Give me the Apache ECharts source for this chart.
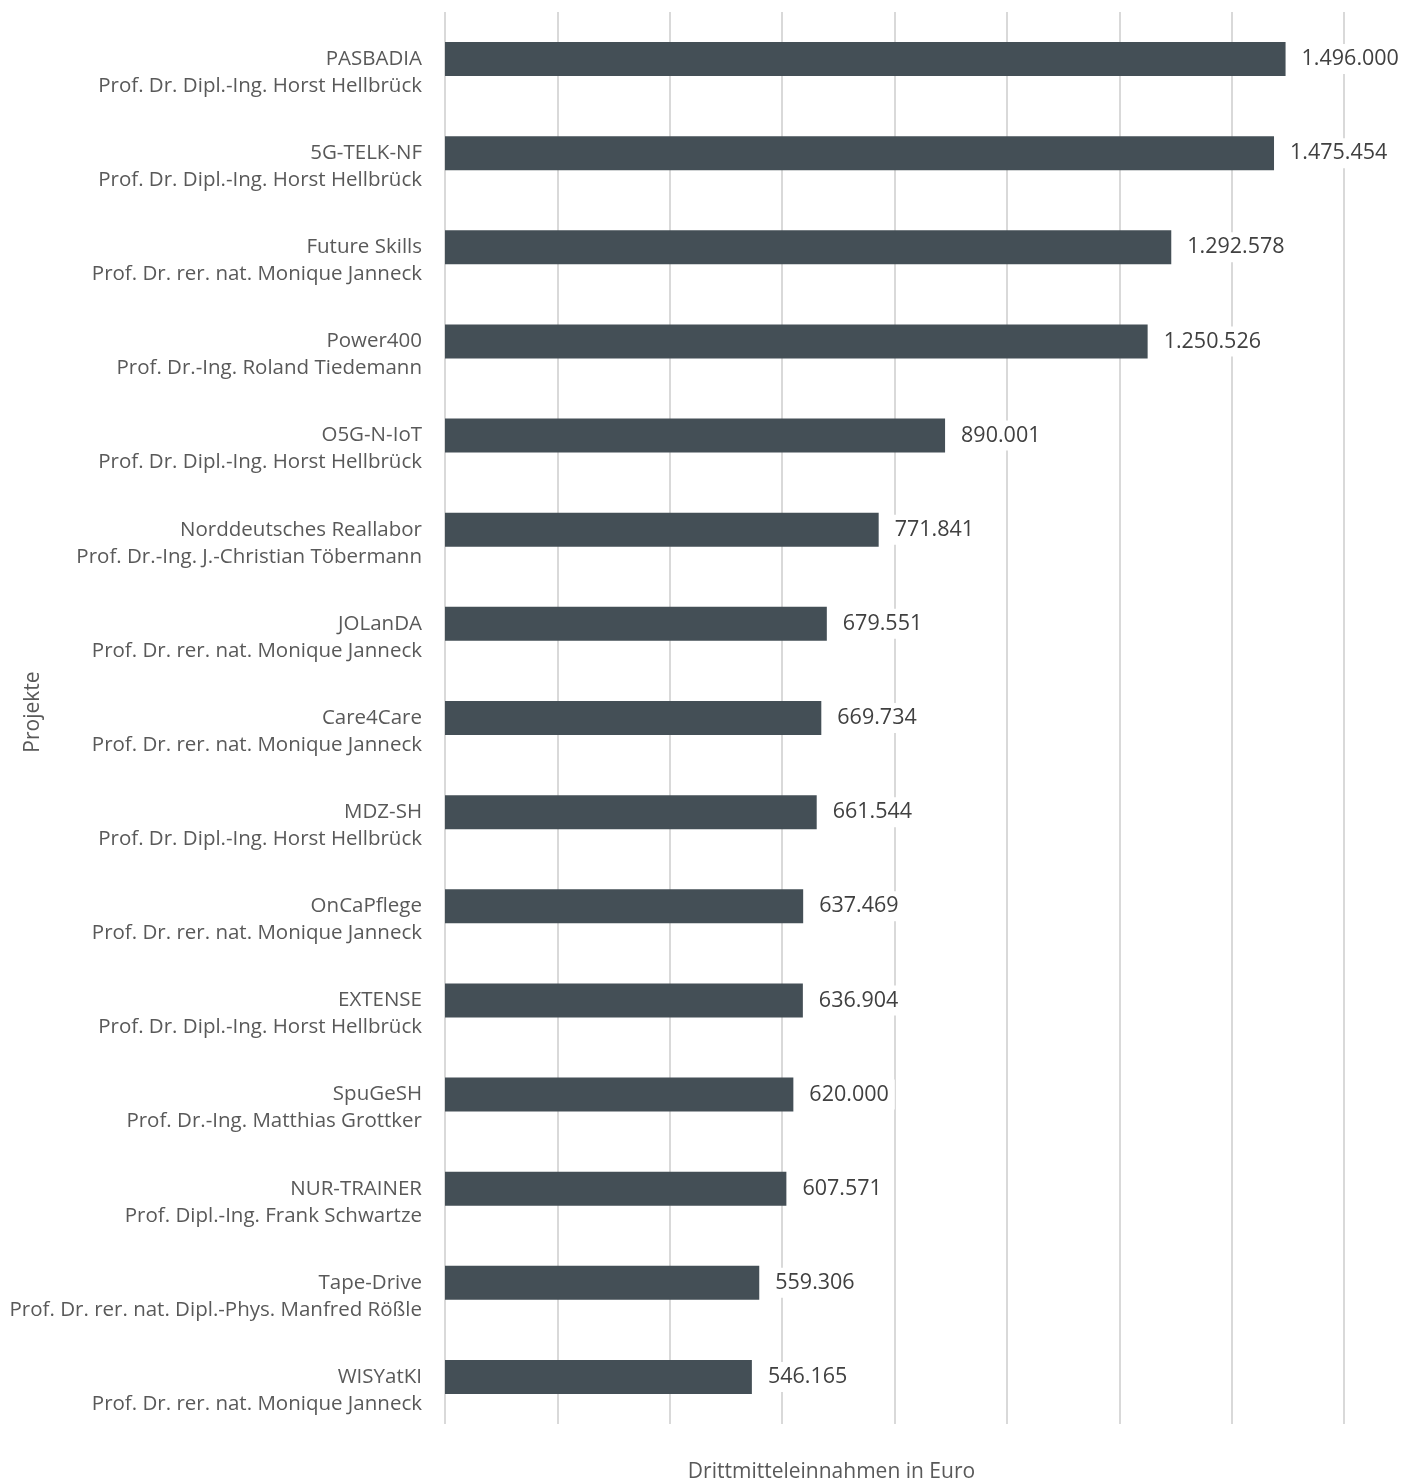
<!DOCTYPE html>
<html>
<head>
<meta charset="utf-8">
<script src="https://cdn.jsdelivr.net/npm/echarts@6/dist/echarts.min.js"></script>
<style>
  html, body { margin: 0; padding: 0; background: #fff; }
  #chart { width: 1416px; height: 1479px; }
</style>
</head>
<body>
<div id="chart"></div>
<script>
const projects = ['PASBADIA', '5G-TELK-NF', 'Future Skills', 'Power400', 'O5G-N-IoT', 'Norddeutsches Reallabor',
  'JOLanDA', 'Care4Care', 'MDZ-SH', 'OnCaPflege', 'EXTENSE', 'SpuGeSH', 'NUR-TRAINER', 'Tape-Drive', 'WISYatKI'];
const leaders = ['Prof. Dr. Dipl.-Ing. Horst Hellbrück', 'Prof. Dr. Dipl.-Ing. Horst Hellbrück',
  'Prof. Dr. rer. nat. Monique Janneck', 'Prof. Dr.-Ing. Roland Tiedemann', 'Prof. Dr. Dipl.-Ing. Horst Hellbrück',
  'Prof. Dr.-Ing. J.-Christian Töbermann', 'Prof. Dr. rer. nat. Monique Janneck', 'Prof. Dr. rer. nat. Monique Janneck',
  'Prof. Dr. Dipl.-Ing. Horst Hellbrück', 'Prof. Dr. rer. nat. Monique Janneck', 'Prof. Dr. Dipl.-Ing. Horst Hellbrück',
  'Prof. Dr.-Ing. Matthias Grottker', 'Prof. Dipl.-Ing. Frank Schwartze', 'Prof. Dr. rer. nat. Dipl.-Phys. Manfred Rößle',
  'Prof. Dr. rer. nat. Monique Janneck'];
const einnahmen = [1496000, 1475454, 1292578, 1250526, 890001, 771841, 679551, 669734, 661544, 637469, 636904, 620000, 607571, 559306, 546165];

const categories = projects.map((p, i) => p + '\n' + leaders[i]);

// deutsche Tausenderpunkte
const fmt = (v) => String(v).replace(/\B(?=(\d{3})+(?!\d))/g, '.');

const font = '"Open Sans", sans-serif';

const chart = echarts.init(document.getElementById('chart'));
chart.setOption({
  animation: false,
  backgroundColor: '#fff',
  grid: { left: 445, right: 72, top: 12, bottom: 55, outerBoundsMode: 'none' },
  xAxis: {
    type: 'value',
    min: 0,
    max: 1600000,
    interval: 200000,
    axisLabel: { show: false },
    axisLine: { show: false },
    axisTick: { show: false },
    splitLine: { lineStyle: { color: '#d9d9d9', width: 2 } },
    name: 'Drittmitteleinnahmen in Euro',
    nameLocation: 'middle',
    nameGap: 38,
    nameMoveOverlap: false,
    nameTextStyle: { fontFamily: font, fontSize: 21, color: '#595959', padding: [0, 126, 0, 0] }
  },
  yAxis: {
    type: 'category',
    inverse: true,
    data: categories,
    axisLine: { show: false },
    axisTick: { show: false },
    axisLabel: {
      fontFamily: font, fontSize: 20.5, color: '#595959', lineHeight: 27, margin: 23, align: 'right',
      interval: 0,
      // erste Zeile auf Balkenhöhe
      formatter: (v) => '\n' + v
    },
    name: 'Projekte',
    nameLocation: 'middle',
    nameGap: 401,
    nameMoveOverlap: false,
    nameTextStyle: { fontFamily: font, fontSize: 21, color: '#595959', padding: [0, 0, 0, 12] }
  },
  series: [{
    type: 'bar',
    data: einnahmen,
    barWidth: 34,
    itemStyle: { color: '#444f56' },
    label: {
      show: true,
      position: 'right',
      distance: 10,
      formatter: (p) => fmt(p.value),
      fontFamily: font,
      fontSize: 21.5,
      color: '#404040',
      backgroundColor: '#fff',
      padding: [4, 6]
    }
  }]
});
</script>
</body>
</html>
